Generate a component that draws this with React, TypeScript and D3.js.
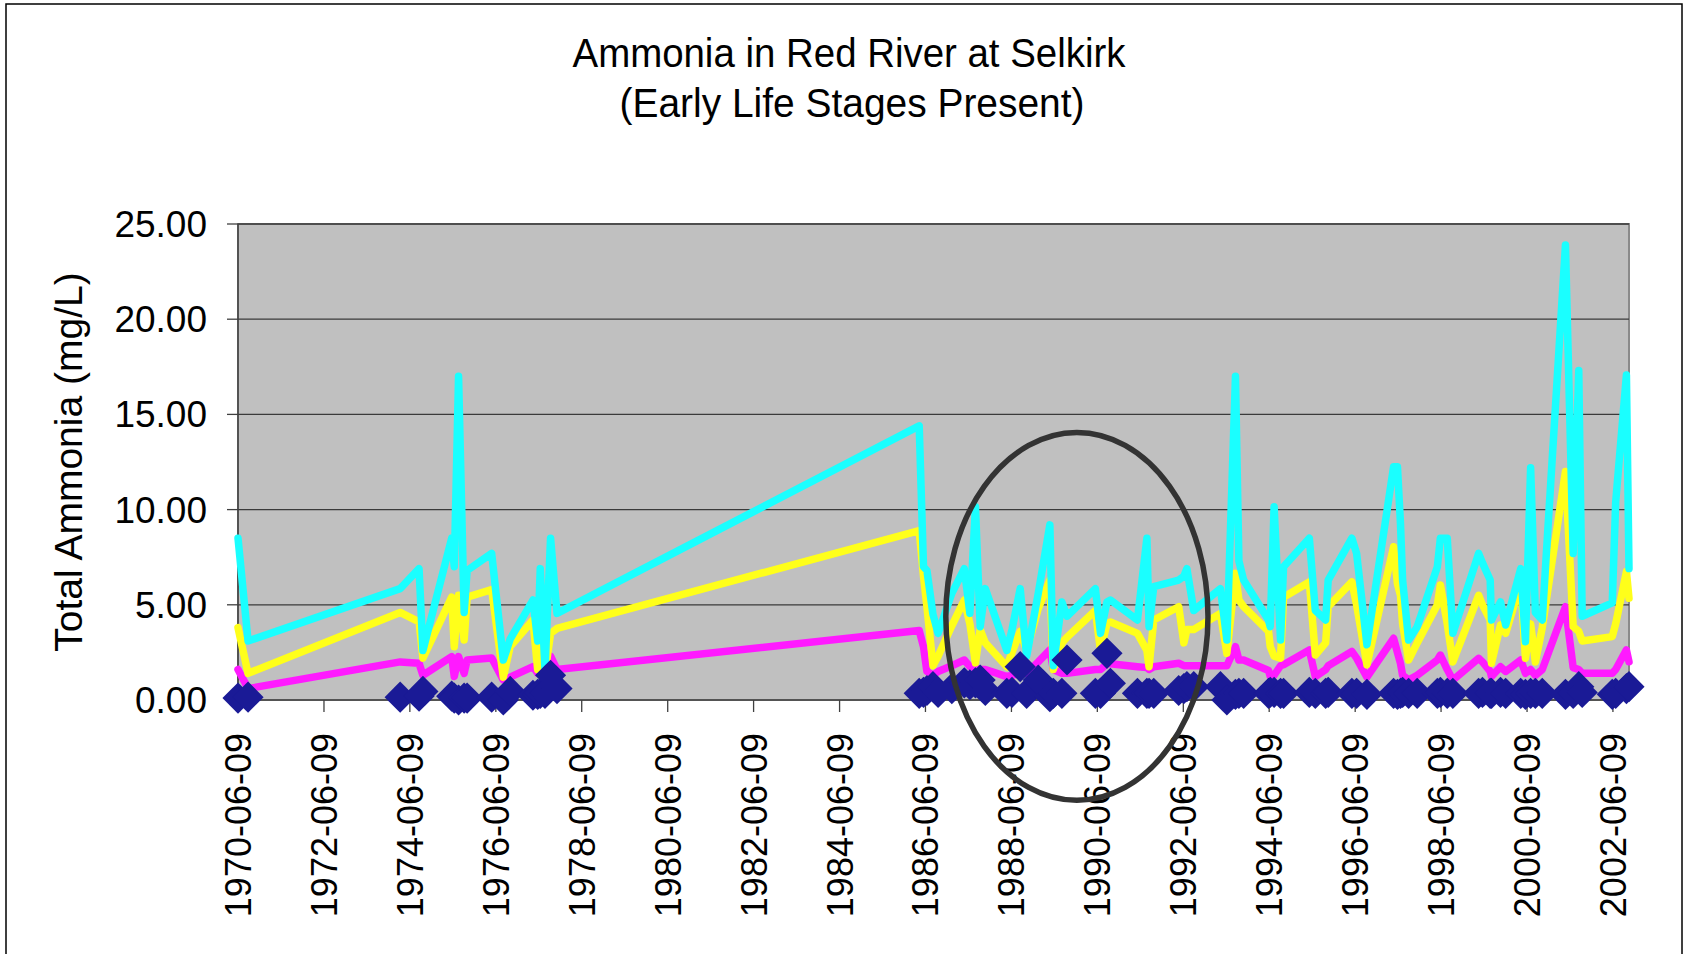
import React from "react";
import * as d3 from "d3";

// Sample dates as decimal years
const dates: number[] = [
  1970.436, 1970.67, 1974.21, 1974.65, 1974.74, 1975.41, 1975.47, 1975.57, 1975.7, 1975.77,
  1976.34, 1976.61, 1976.77, 1977.3, 1977.41, 1977.47, 1977.58, 1977.71, 1977.86, 1986.29,
  1986.39, 1986.47, 1986.61, 1986.73, 1987.05, 1987.34, 1987.47, 1987.6, 1987.71, 1987.83,
  1988.33, 1988.45, 1988.64, 1988.79, 1989.06, 1989.33, 1989.41, 1989.61, 1989.73, 1990.39,
  1990.51, 1990.66, 1990.74, 1991.37, 1991.59, 1991.64, 1991.75, 1992.33, 1992.45, 1992.52,
  1992.68, 1993.3, 1993.45, 1993.65, 1993.73, 1993.84, 1994.42, 1994.46, 1994.55, 1994.7,
  1994.77, 1995.37, 1995.51, 1995.75, 1995.81, 1996.36, 1996.47, 1996.71, 1997.33, 1997.42,
  1997.49, 1997.54, 1997.68, 1997.88, 1998.35, 1998.42, 1998.58, 1998.71, 1999.31, 1999.4,
  1999.58, 1999.61, 1999.82, 1999.94, 2000.29, 2000.4, 2000.52, 2000.63, 2000.79, 2001.33,
  2001.51, 2001.64, 2001.72, 2002.42, 2002.5, 2002.75, 2002.81,
];

const cyanSeries: number[] = [
  8.5, 3.1, 5.85, 6.9, 2.6, 8.5, 7.0, 17.0, 4.6, 6.8,
  7.7, 2.1, 3.2, 5.25, 3.1, 6.9, 1.6, 8.5, 4.55, 14.4,
  7.0, 6.8, 4.5, 3.5, 5.6, 6.9, 4.55, 10.15, 3.85, 5.85,
  2.6, 3.7, 5.85, 2.3, 5.6, 9.2, 1.8, 5.15, 4.4, 5.85,
  3.5, 5.15, 5.25, 4.2, 8.5, 3.85, 5.95, 6.3, 6.5, 6.9,
  4.7, 5.85, 3.15, 17.0, 7.3, 6.3, 4.2, 3.85, 10.15, 3.15,
  7.0, 8.5, 4.7, 4.2, 6.3, 8.5, 7.7, 2.9, 12.25, 12.25,
  9.3, 6.3, 3.15, 3.85, 7.0, 8.5, 8.5, 3.5, 7.7, 7.2,
  6.3, 4.2, 5.15, 3.94, 6.9, 3.06, 12.2, 4.6, 4.2, 23.9,
  7.7, 17.3, 4.4, 5.1, 10.4, 17.07, 6.9,
];

const yellowSeries: number[] = [
  3.8, 1.4, 4.6, 4.1, 2.2, 5.4, 2.8, 5.5, 3.15, 5.4,
  5.8, 1.2, 2.8, 4.2, 1.6, 4.0, 1.4, 3.5, 3.76, 8.9,
  6.5, 4.9, 1.8, 2.3, 3.9, 5.25, 4.0, 1.95, 3.7, 3.0,
  1.75, 2.5, 3.6, 2.6, 4.8, 6.3, 1.6, 3.0, 3.3, 4.7,
  2.6, 4.0, 4.1, 3.5, 2.6, 1.75, 4.2, 4.9, 3.0, 3.7,
  3.7, 4.55, 2.45, 6.65, 5.25, 4.9, 3.6, 2.8, 2.3, 2.2,
  5.4, 6.2, 2.36, 3.0, 4.9, 6.2, 5.0, 1.85, 8.05, 6.1,
  5.5, 4.0, 2.1, 3.0, 5.0, 6.04, 4.0, 2.0, 5.5, 5.0,
  4.2, 1.93, 3.94, 3.5, 6.13, 2.19, 4.0, 2.0, 3.8, 12.0,
  3.85, 3.6, 3.1, 3.33, 4.0, 6.74, 5.34,
];

const magentaSeries: number[] = [
  1.6, 0.6, 2.0, 1.93, 1.3, 2.28, 1.23, 2.28, 1.4, 2.1,
  2.2, 1.05, 1.2, 1.75, 1.4, 1.9, 1.6, 2.3, 1.6, 3.65,
  2.8, 1.5, 1.3, 1.5, 1.8, 2.1, 1.75, 1.7, 1.6, 1.6,
  1.23, 1.3, 1.4, 1.4, 2.0, 2.63, 1.6, 1.4, 1.4, 1.6,
  1.6, 1.9, 1.9, 1.75, 1.7, 1.6, 1.75, 1.93, 1.8, 1.8,
  1.8, 1.8, 1.8, 2.8, 2.1, 2.1, 1.55, 1.23, 1.3, 1.8,
  1.85, 2.63, 1.23, 1.6, 1.8, 2.55, 2.2, 1.2, 3.24, 2.5,
  1.93, 1.3, 1.05, 1.3, 2.1, 2.36, 1.6, 1.05, 2.19, 2.0,
  1.5, 1.23, 1.75, 1.5, 2.1, 1.4, 1.6, 1.3, 1.6, 4.9,
  1.7, 1.6, 1.4, 1.4, 1.6, 2.63, 2.01,
];

const measuredSeries: number[] = [
  0.1, 0.15, 0.15, 0.2, 0.45, 0.2, 0.1, 0.0, 0.1, 0.1,
  0.15, 0.0, 0.45, 0.25, 0.3, 0.35, 0.35, 1.3, 0.6, 0.35,
  0.4, 0.5, 0.7, 0.4, 0.6, 0.9, 0.8, 0.9, 1.05, 0.5,
  0.35, 0.4, 1.75, 0.35, 1.05, 0.17, 0.35, 0.35, 2.1, 0.35,
  0.35, 2.45, 0.88, 0.35, 0.35, 0.35, 0.35, 0.5, 0.6, 0.7,
  0.7, 0.7, 0.0, 0.3, 0.35, 0.35, 0.35, 0.4, 0.4, 0.35,
  0.35, 0.4, 0.35, 0.35, 0.4, 0.35, 0.35, 0.3, 0.35, 0.3,
  0.35, 0.4, 0.35, 0.35, 0.35, 0.4, 0.35, 0.35, 0.35, 0.4,
  0.35, 0.35, 0.4, 0.35, 0.35, 0.3, 0.35, 0.35, 0.35, 0.3,
  0.35, 0.7, 0.4, 0.3, 0.35, 0.6, 0.7,
];

const xTickLabels: string[] = [
  "1970-06-09", "1972-06-09", "1974-06-09", "1976-06-09", "1978-06-09", "1980-06-09",
  "1982-06-09", "1984-06-09", "1986-06-09", "1988-06-09", "1990-06-09", "1992-06-09",
  "1994-06-09", "1996-06-09", "1998-06-09", "2000-06-09", "2002-06-09",
];
const yTickValues: number[] = [0, 5, 10, 15, 20, 25];

const titleLines = ["Ammonia in Red River at Selkirk", "(Early Life Stages Present)"];
const yAxisTitle = "Total Ammonia (mg/L)";

// annotation ellipse (data units): centre date, centre value, half width years, half height value
const highlight = { year: 1989.96, value: 4.39, halfYears: 3.05, halfValue: 9.66 };

function yearToDate(y: number): Date {
  const yr = Math.floor(y);
  const s = Date.UTC(yr, 0, 1);
  const e = Date.UTC(yr + 1, 0, 1);
  return new Date(s + (y - yr) * (e - s));
}

const FONT = "'Liberation Sans', Arial, Helvetica, sans-serif";

export default function App() {
  const W = 1684, H = 954;
  const left = 238, right = 1629, top = 224, bottom = 700;

  const dateObjs = dates.map(yearToDate);
  const x = d3.scaleUtc().domain(d3.extent(dateObjs) as [Date, Date]).range([left, right]);
  const y = d3.scaleLinear().domain([0, 25]).range([bottom, top]);

  const line = d3
    .line<number>()
    .x((_, i) => x(dateObjs[i]))
    .y((d) => y(d));

  const series = [
    { values: magentaSeries, color: "#FF1AFF" },
    { values: yellowSeries, color: "#FFFF1A" },
    { values: cyanSeries, color: "#1AFFFF" },
  ];

  const diamond = d3.symbol().type(d3.symbolDiamond2).size(620);

  const cx = x(yearToDate(highlight.year));
  const rx = x(yearToDate(highlight.year + highlight.halfYears)) - cx;
  const cy = y(highlight.value);
  const ry = y(0) - y(highlight.halfValue);

  return (
    <svg
      width={W}
      height={H}
      style={{ position: "absolute", left: 0, top: 0, background: "#fff" }}
      fontFamily={FONT}
    >
      <rect x={0} y={0} width={W} height={H} fill="#fff" />
      <rect x={6} y={4} width={1676} height={1000} fill="none" stroke="#000" strokeWidth={1.5} />

      {/* Title */}
      <text x={849} y={67} fontSize={40} textAnchor="middle" textLength={553} lengthAdjust="spacingAndGlyphs">
        {titleLines[0]}
      </text>
      <text x={852} y={117} fontSize={40} textAnchor="middle" textLength={465} lengthAdjust="spacingAndGlyphs">
        {titleLines[1]}
      </text>

      {/* Plot area */}
      <rect x={left} y={top} width={right - left} height={bottom - top} fill="#C0C0C0" stroke="#8a8a8a" strokeWidth={2} />

      {/* Gridlines */}
      {yTickValues.slice(1).map((v) => (
        <line key={"g" + v} x1={left} x2={right} y1={y(v)} y2={y(v)} stroke="#3a3a3a" strokeWidth={1.3} />
      ))}

      {/* Y axis */}
      <line x1={left} x2={left} y1={top} y2={bottom} stroke="#404040" strokeWidth={1.5} />
      {yTickValues.map((v) => (
        <g key={"yt" + v}>
          <line x1={left - 11} x2={left} y1={y(v)} y2={y(v)} stroke="#404040" strokeWidth={1.3} />
          <text x={207} y={y(v) + 13} fontSize={37} textAnchor="end">
            {v.toFixed(2)}
          </text>
        </g>
      ))}
      <text transform={`translate(82,462) rotate(-90)`} fontSize={39} textAnchor="middle">
        {yAxisTitle}
      </text>

      {/* X axis */}
      <line x1={left} x2={right} y1={bottom} y2={bottom} stroke="#404040" strokeWidth={1.5} />
      {xTickLabels.map((lab) => {
        const px = x(new Date(lab + "T00:00:00Z"));
        return (
          <g key={lab}>
            <line x1={px} x2={px} y1={bottom} y2={bottom + 12} stroke="#404040" strokeWidth={1.3} />
            <text transform={`translate(${px + 13},733) rotate(-90)`} fontSize={36} textAnchor="end">
              {lab}
            </text>
          </g>
        );
      })}

      {/* Lines */}
      {series.map((s) => (
        <path
          key={s.color}
          d={line(s.values) || ""}
          fill="none"
          stroke={s.color}
          strokeWidth={7.5}
          strokeLinejoin="round"
          strokeLinecap="round"
        />
      ))}

      {/* Measured values */}
      {measuredSeries.map((v, i) => (
        <path
          key={"d" + i}
          d={diamond() || ""}
          transform={`translate(${x(dateObjs[i])},${y(v)})`}
          fill="#1A1A96"
        />
      ))}

      {/* Highlight ellipse */}
      <ellipse cx={cx} cy={cy} rx={rx} ry={ry} fill="none" stroke="#333333" strokeWidth={5.5} />
    </svg>
  );
}
